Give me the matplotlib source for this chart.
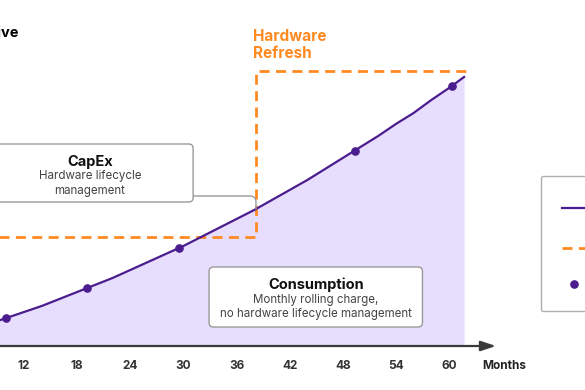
import matplotlib.pyplot as plt
from matplotlib.patches import FancyBboxPatch
from matplotlib.lines import Line2D

plt.rcParams['font.family'] = ['Inter', 'DejaVu Sans']

# consumption curve (months, cumulative cost in arbitrary units)
curve_months = [8, 10, 12, 14, 16, 18, 20, 22, 24, 26, 28, 30, 32, 34, 36, 38,
                40, 42, 44, 46, 48, 50, 52, 54, 56, 58, 60, 61.7]
curve_cost = [22, 28, 34, 40, 47, 54, 61, 68, 76, 84, 92, 100, 109, 118, 127, 136,
              146, 156, 166, 177, 188, 199, 210, 222, 233, 246, 258, 269]

# billing points on the curve
dot_months = [10, 19.1, 29.5, 49.4, 60.3]
dot_cost = [28, 58, 98, 195, 260]

# capex step (hardware refresh)
capex_months = [8, 38.2, 38.2, 62]
capex_cost = [109, 109, 275, 275]

ticks = [12, 18, 24, 30, 36, 42, 48, 54, 60]

purple = '#4B1C8E'
fill_c = '#E7DDFD'
orange = '#FF8A22'
grey = '#3A3A3A'

fig = plt.figure(figsize=(5.85, 3.9), dpi=100)
ax = fig.add_axes([0, 0, 1, 1])
ax.set_xlim(9.289, 75.36)
ax.set_ylim(-44, 346)
ax.axis('off')

ax.fill_between(curve_months, 0, curve_cost, color=fill_c, lw=0, zorder=1)
ax.plot(curve_months, curve_cost, color=purple, lw=1.6, zorder=4)
ax.plot(dot_months, dot_cost, 'o', color=purple, ms=5.2, zorder=5)
ax.plot(capex_months, capex_cost, color=orange, lw=2, ls=(0, (3.6, 2.3)), zorder=3)

# x axis with arrow
ax.annotate('', xy=(65.3, 0), xytext=(8, 0),
            arrowprops=dict(arrowstyle='-|>,head_length=0.9,head_width=0.3',
                            color=grey, lw=1.6, shrinkA=0, shrinkB=0), zorder=2)
for t in ticks:
    ax.text(t, -20, str(t), ha='center', va='center', fontsize=8.5,
            fontweight='bold', color='#333333')
ax.text(63.7, -20, 'Months', ha='left', va='center', fontsize=8.5,
        fontweight='bold', color='#222222')

ax.text(11.4, 313, 'Cumulative', ha='right', va='center', fontsize=10.5,
        fontweight='bold', color='black')
ax.text(37.9, 317, 'Hardware\nRefresh', ha='left', va='top', fontsize=11,
        fontweight='bold', color=orange, linespacing=1.2)

# callout boxes
def callout(x0, y0, x1, y1, title, sub):
    box = FancyBboxPatch((x0, y0), x1 - x0, y1 - y0,
                         boxstyle='round,pad=0,rounding_size=0.5',
                         fc='white', ec='#9A9A9A', lw=1, zorder=6,
                         mutation_aspect=8.854)
    ax.add_patch(box)
    cx = (x0 + x1) / 2
    ax.text(cx, y1 - 18, title, ha='center', va='center', fontsize=10.5,
            fontweight='bold', color='#111111', zorder=7)
    ax.text(cx, y1 - 26.5, sub, ha='center', va='top', fontsize=8.3,
            color='#444444', linespacing=1.25, zorder=7)

callout(7.8, 144, 31.1, 202, 'CapEx', 'Hardware lifecycle\nmanagement')
callout(32.9, 19, 57.0, 79, 'Consumption',
        'Monthly rolling charge,\nno hardware lifecycle management')

ax.annotate('', xy=(38.2, 137), xytext=(31.1, 150),
            arrowprops=dict(arrowstyle='-', color='#9A9A9A', lw=1,
                            connectionstyle='angle,angleA=0,angleB=90,rad=6',
                            shrinkA=0, shrinkB=0), zorder=5)

handles = [Line2D([], [], color=purple, lw=1.6),
           Line2D([], [], color=orange, lw=2, ls=(0, (3.6, 2.3))),
           Line2D([], [], color=purple, marker='o', ls='none', ms=5.2)]
labels = ['Consumption\nmodel', 'CapEx', 'Monthly billing']
leg = ax.legend(handles, labels, loc='upper left', bbox_to_anchor=(541 / 585, 1 - 176 / 390),
                borderaxespad=0, fontsize=8, frameon=True, handlelength=2.2,
                borderpad=1.9, labelspacing=2.3, handletextpad=0.8, fancybox=True)
leg.get_frame().set_edgecolor('#9A9A9A')
leg.get_frame().set_linewidth(1)

fig.savefig('out.png', dpi=100)
